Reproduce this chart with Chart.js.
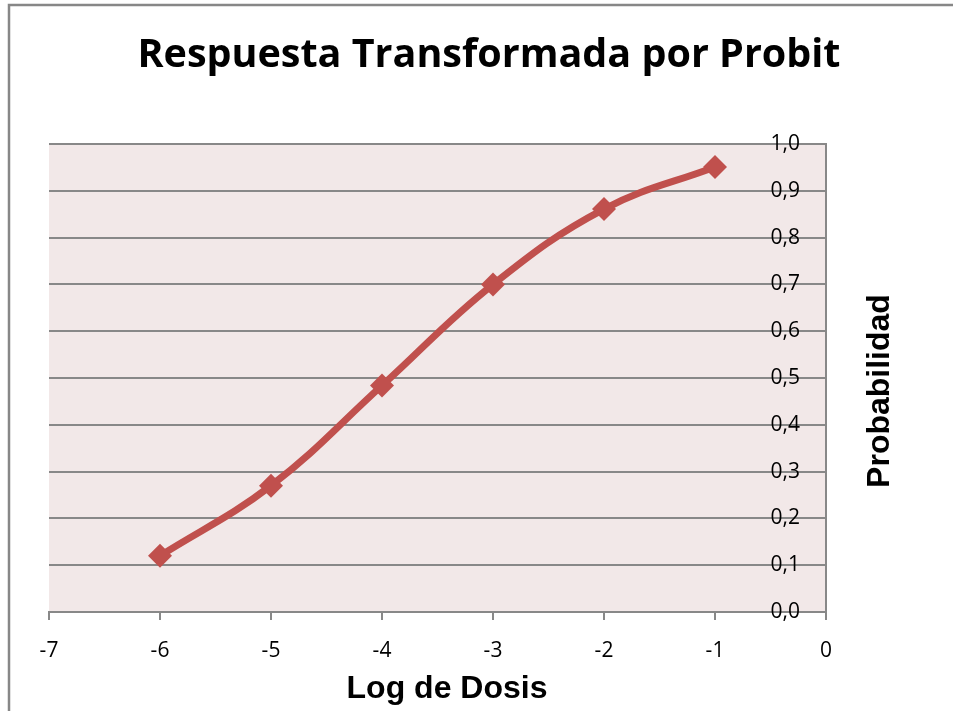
<!DOCTYPE html>
<html>
<head>
<meta charset="utf-8">
<script src="https://cdn.jsdelivr.net/npm/chart.js@4.4.1/dist/chart.umd.min.js"></script>
<style>
  html, body { margin: 0; padding: 0; background: #ffffff; }
  #wrap { width: 953px; height: 711px; position: relative; }
</style>
</head>
<body>
<div id="wrap"><canvas id="c" width="953" height="711"></canvas></div>
<script>
// ---- data ----
const chartTitle = "Respuesta Transformada por Probit";
const xAxisTitle = "Log de Dosis";
const yAxisTitle = "Probabilidad";
const logDosis = [-6, -5, -4, -3, -2, -1];
const probabilidad = [0.12, 0.27, 0.484, 0.70, 0.861, 0.951];
const xTicks = [-7, -6, -5, -4, -3, -2, -1, 0];
const yTicks = [0.0, 0.1, 0.2, 0.3, 0.4, 0.5, 0.6, 0.7, 0.8, 0.9, 1.0];

const points = logDosis.map((x, i) => ({ x: x, y: probabilidad[i] }));

const decor = {
  id: 'decor',
  beforeDraw(chart) {
    const { ctx, chartArea: a } = chart;
    ctx.save();
    ctx.fillStyle = '#F2E8E8';
    ctx.fillRect(a.left, a.top, a.right - a.left, a.bottom - a.top);
    // outer frame
    ctx.strokeStyle = '#878787';
    ctx.lineWidth = 2.5;
    ctx.strokeRect(9, 5, 1000, 800);
    ctx.restore();
  },
  afterDraw(chart) {
    const { ctx } = chart;
    ctx.save();
    ctx.fillStyle = '#000000';
    ctx.textAlign = 'center';
    ctx.textBaseline = 'middle';
    ctx.font = 'bold 39.5px "Open Sans", Lato, sans-serif';
    ctx.fillText(chartTitle, 489, 56);
    ctx.font = 'bold 32px "Liberation Sans", Arial, sans-serif';
    ctx.fillText(xAxisTitle, 447, 689);
    ctx.translate(880, 391);
    ctx.rotate(-Math.PI / 2);
    ctx.fillText(yAxisTitle, 0, 0);
    ctx.restore();
  }
};

new Chart(document.getElementById('c'), {
  type: 'line',
  data: {
    datasets: [{
      data: points,
      borderColor: '#C0504D',
      backgroundColor: '#C0504D',
      borderWidth: 7,
      tension: 0.4,
      pointStyle: 'rectRot',
      pointRadius: 12,
      pointHoverRadius: 12,
      pointBorderWidth: 0,
      pointBackgroundColor: '#C0504D',
      fill: false
    }]
  },
  options: {
    responsive: false,
    animation: false,
    events: [],
    layout: { padding: { top: 144, left: 49, right: 0, bottom: 0 } },
    plugins: {
      legend: { display: false },
      title: { display: false },
      tooltip: { enabled: false }
    },
    scales: {
      x: {
        type: 'linear',
        min: xTicks[0],
        max: xTicks[xTicks.length - 1],
        afterBuildTicks: (s) => { s.ticks = xTicks.map(v => ({ value: v })); },
        afterFit: (s) => { s.height = 99; },
        grid: { drawOnChartArea: false, drawTicks: true, tickLength: 8, color: '#888888', lineWidth: 2 },
        border: { display: true, color: '#888888', width: 2 },
        ticks: {
          padding: 18,
          color: '#000000',
          font: { family: '"Open Sans", Lato, sans-serif', size: 21 },
          maxRotation: 0,
          callback: (v) => String(v)
        }
      },
      y: {
        type: 'linear',
        position: 'right',
        min: 0,
        max: 1,
        afterBuildTicks: (s) => { s.ticks = yTicks.map(v => ({ value: v })); },
        afterFit: (s) => { s.width = 127; },
        grid: { drawOnChartArea: true, drawTicks: false, color: '#888888', lineWidth: 2 },
        border: { display: true, color: '#888888', width: 2 },
        ticks: {
          mirror: true,
          padding: -26,
          color: '#000000',
          font: { family: '"Open Sans", Lato, sans-serif', size: 21 },
          callback: (v) => v.toFixed(1).replace('.', ',')
        }
      }
    }
  },
  plugins: [decor]
});
</script>
</body>
</html>
